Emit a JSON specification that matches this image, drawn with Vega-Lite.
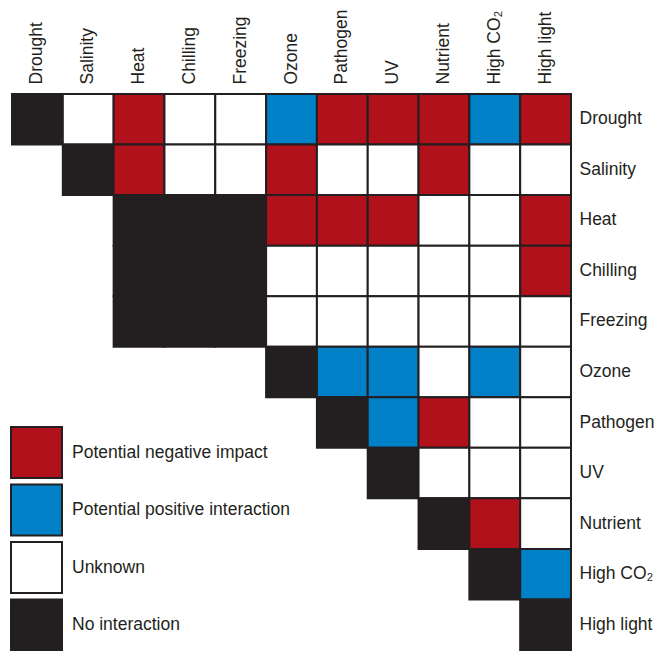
{
  "$schema": "https://vega.github.io/schema/vega-lite/v6.json",
  "width": 559,
  "height": 556,
  "autosize": "none",
  "padding": {"left": 12, "top": 94, "right": 87, "bottom": 1},
  "background": "white",
  "config": {
    "view": {"stroke": null},
    "font": "Liberation Sans",
    "axis": {"labelFont": "Liberation Sans", "labelFontSize": 17.5, "labelColor": "#231f20", "ticks": false, "domain": false, "grid": false, "title": null},
    "legend": {"labelFont": "Liberation Sans", "labelFontSize": 17.5, "labelColor": "#231f20"}
  },
  "data": {
    "values": [
      {"row": "Drought", "col": "Drought", "type": "No interaction"},
      {"row": "Drought", "col": "Salinity", "type": "Unknown"},
      {"row": "Drought", "col": "Heat", "type": "Potential negative impact"},
      {"row": "Drought", "col": "Chilling", "type": "Unknown"},
      {"row": "Drought", "col": "Freezing", "type": "Unknown"},
      {"row": "Drought", "col": "Ozone", "type": "Potential positive interaction"},
      {"row": "Drought", "col": "Pathogen", "type": "Potential negative impact"},
      {"row": "Drought", "col": "UV", "type": "Potential negative impact"},
      {"row": "Drought", "col": "Nutrient", "type": "Potential negative impact"},
      {"row": "Drought", "col": "High CO₂", "type": "Potential positive interaction"},
      {"row": "Drought", "col": "High light", "type": "Potential negative impact"},

      {"row": "Salinity", "col": "Salinity", "type": "No interaction"},
      {"row": "Salinity", "col": "Heat", "type": "Potential negative impact"},
      {"row": "Salinity", "col": "Chilling", "type": "Unknown"},
      {"row": "Salinity", "col": "Freezing", "type": "Unknown"},
      {"row": "Salinity", "col": "Ozone", "type": "Potential negative impact"},
      {"row": "Salinity", "col": "Pathogen", "type": "Unknown"},
      {"row": "Salinity", "col": "UV", "type": "Unknown"},
      {"row": "Salinity", "col": "Nutrient", "type": "Potential negative impact"},
      {"row": "Salinity", "col": "High CO₂", "type": "Unknown"},
      {"row": "Salinity", "col": "High light", "type": "Unknown"},

      {"row": "Heat", "col": "Heat", "type": "No interaction"},
      {"row": "Heat", "col": "Chilling", "type": "No interaction"},
      {"row": "Heat", "col": "Freezing", "type": "No interaction"},
      {"row": "Heat", "col": "Ozone", "type": "Potential negative impact"},
      {"row": "Heat", "col": "Pathogen", "type": "Potential negative impact"},
      {"row": "Heat", "col": "UV", "type": "Potential negative impact"},
      {"row": "Heat", "col": "Nutrient", "type": "Unknown"},
      {"row": "Heat", "col": "High CO₂", "type": "Unknown"},
      {"row": "Heat", "col": "High light", "type": "Potential negative impact"},

      {"row": "Chilling", "col": "Heat", "type": "No interaction"},
      {"row": "Chilling", "col": "Chilling", "type": "No interaction"},
      {"row": "Chilling", "col": "Freezing", "type": "No interaction"},
      {"row": "Chilling", "col": "Ozone", "type": "Unknown"},
      {"row": "Chilling", "col": "Pathogen", "type": "Unknown"},
      {"row": "Chilling", "col": "UV", "type": "Unknown"},
      {"row": "Chilling", "col": "Nutrient", "type": "Unknown"},
      {"row": "Chilling", "col": "High CO₂", "type": "Unknown"},
      {"row": "Chilling", "col": "High light", "type": "Potential negative impact"},

      {"row": "Freezing", "col": "Heat", "type": "No interaction"},
      {"row": "Freezing", "col": "Chilling", "type": "No interaction"},
      {"row": "Freezing", "col": "Freezing", "type": "No interaction"},
      {"row": "Freezing", "col": "Ozone", "type": "Unknown"},
      {"row": "Freezing", "col": "Pathogen", "type": "Unknown"},
      {"row": "Freezing", "col": "UV", "type": "Unknown"},
      {"row": "Freezing", "col": "Nutrient", "type": "Unknown"},
      {"row": "Freezing", "col": "High CO₂", "type": "Unknown"},
      {"row": "Freezing", "col": "High light", "type": "Unknown"},

      {"row": "Ozone", "col": "Ozone", "type": "No interaction"},
      {"row": "Ozone", "col": "Pathogen", "type": "Potential positive interaction"},
      {"row": "Ozone", "col": "UV", "type": "Potential positive interaction"},
      {"row": "Ozone", "col": "Nutrient", "type": "Unknown"},
      {"row": "Ozone", "col": "High CO₂", "type": "Potential positive interaction"},
      {"row": "Ozone", "col": "High light", "type": "Unknown"},

      {"row": "Pathogen", "col": "Pathogen", "type": "No interaction"},
      {"row": "Pathogen", "col": "UV", "type": "Potential positive interaction"},
      {"row": "Pathogen", "col": "Nutrient", "type": "Potential negative impact"},
      {"row": "Pathogen", "col": "High CO₂", "type": "Unknown"},
      {"row": "Pathogen", "col": "High light", "type": "Unknown"},

      {"row": "UV", "col": "UV", "type": "No interaction"},
      {"row": "UV", "col": "Nutrient", "type": "Unknown"},
      {"row": "UV", "col": "High CO₂", "type": "Unknown"},
      {"row": "UV", "col": "High light", "type": "Unknown"},

      {"row": "Nutrient", "col": "Nutrient", "type": "No interaction"},
      {"row": "Nutrient", "col": "High CO₂", "type": "Potential negative impact"},
      {"row": "Nutrient", "col": "High light", "type": "Unknown"},

      {"row": "High CO₂", "col": "High CO₂", "type": "No interaction"},
      {"row": "High CO₂", "col": "High light", "type": "Potential positive interaction"},

      {"row": "High light", "col": "High light", "type": "No interaction"}
    ]
  },
  "mark": {"type": "rect", "stroke": "#231f20", "strokeWidth": 2},
  "encoding": {
    "x": {
      "field": "col", "type": "nominal",
      "sort": ["Drought", "Salinity", "Heat", "Chilling", "Freezing", "Ozone", "Pathogen", "UV", "Nutrient", "High CO₂", "High light"],
      "scale": {"paddingInner": 0, "paddingOuter": 0},
      "axis": {"orient": "top", "labelAngle": -90, "labelPadding": 10}
    },
    "y": {
      "field": "row", "type": "nominal",
      "sort": ["Drought", "Salinity", "Heat", "Chilling", "Freezing", "Ozone", "Pathogen", "UV", "Nutrient", "High CO₂", "High light"],
      "scale": {"paddingInner": 0, "paddingOuter": 0},
      "axis": {"orient": "right", "labelPadding": 8}
    },
    "color": {
      "field": "type", "type": "nominal",
      "scale": {
        "domain": ["Potential negative impact", "Potential positive interaction", "Unknown", "No interaction"],
        "range": ["#b0111a", "#0080c6", "#ffffff", "#231f20"]
      },
      "legend": {
        "title": null,
        "orient": "none",
        "legendX": -2,
        "legendY": 332,
        "symbolType": "square",
        "symbolSize": 2601,
        "symbolStrokeColor": "#231f20",
        "symbolStrokeWidth": 2,
        "symbolOpacity": 1,
        "labelOffset": 9,
        "rowPadding": -1.5,
        "labelLimit": 400
      }
    }
  }
}
